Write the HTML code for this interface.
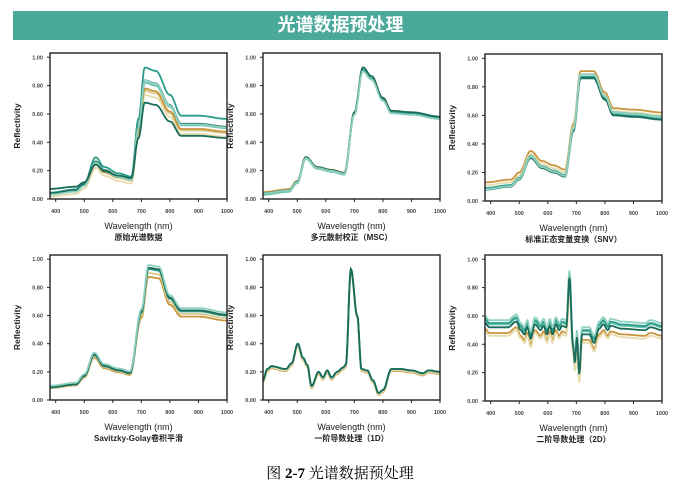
<!DOCTYPE html>
<html><head><meta charset="utf-8"><style>
body{margin:0;background:#fff;width:680px;height:494px;overflow:hidden;position:relative;font-family:"Liberation Sans","Noto Sans CJK SC",sans-serif}
#ban{position:absolute;left:13px;top:11px;width:655px;height:29px;background:#4aa99a;color:#fff;font-weight:bold;font-size:18px;text-align:center;line-height:29px;font-family:"Liberation Sans","Noto Sans CJK SC",sans-serif}
#cap{position:absolute;left:0;width:680px;top:462px;text-align:center;font-size:15px;font-family:"Liberation Serif","Noto Serif CJK SC",serif}
svg{position:absolute;left:0;top:0}
</style></head><body>
<div id="ban">光谱数据预处理</div>
<svg id="s" width="680" height="494" xmlns="http://www.w3.org/2000/svg"></svg>
<div id="cap">图 <b>2-7</b> 光谱数据预处理</div>
<script>
var NS="http://www.w3.org/2000/svg",S=document.getElementById('s');
function el(t,a,txt){var e=document.createElementNS(NS,t);for(var k in a)e.setAttribute(k,a[k]);if(txt!=null)e.textContent=txt;S.appendChild(e);return e;}
function interp(kp,x){for(var i=0;i<kp.length-1;i++){if(x<=kp[i+1][0]){var t=(x-kp[i][0])/(kp[i+1][0]-kp[i][0]);t=(1-Math.cos(Math.PI*t))/2;return kp[i][1]+t*(kp[i+1][1]-kp[i][1]);}}return kp[kp.length-1][1];}
var C=['#d9c98f','#e8dcae','#c8953c','#6cc4b0','#2a9d8a','#1b6b5a','#8fd0c0'];
var panels=[
{x:50,y:53,w:177,h:146,cap:'原始光谱数据',kp:[[380,.04],[470,.06],[500,.1],[540,.26],[570,.2],[620,.16],[665,.14],[690,.5],[712,.82],[750,.8],[800,.65],[840,.52],[900,.52],[1000,.5]],
 ser:[[.93,0,0],[.92,-.02,1],[.95,0,2],[1.0,0,3],[1.13,0,4],[1.02,0,5],[1.03,-.01,6],[.78,.04,5]]},
{x:263,y:53,w:177,h:146,cap:'多元散射校正（MSC）',kp:[[380,.04],[470,.06],[500,.12],[530,.29],[570,.22],[620,.2],[665,.18],[700,.6],[730,.91],[760,.85],[800,.7],[830,.61],[900,.6],[1000,.57]],
 ser:[[1,0,0],[.98,.01,2],[1.01,-.01,3],[1,0,4],[1.02,0,5],[.99,0,6]]},
{x:485,y:54,w:177,h:147,cap:'标准正态变量变换（SNV）',kp:[[380,.09],[470,.11],[500,.16],[540,.31],[580,.24],[620,.21],[660,.18],[690,.5],[715,.87],[760,.87],[800,.72],[830,.61],[900,.6],[1000,.58]],
 ser:[[1,.04,2],[1,.02,1],[1.02,0,3],[1,0,4],[1,-.01,5],[1.03,-.01,6]]},
{x:50,y:255,w:177,h:145,cap:'Savitzky-Golay卷积平滑',kp:[[380,.09],[470,.11],[500,.17],[535,.32],[570,.24],[620,.21],[660,.19],[700,.62],[725,.93],[760,.92],[800,.72],[840,.63],[900,.63],[1000,.6]],
 ser:[[.94,0,2],[.97,0,0],[1,0,3],[1,0,4],[1.01,0,5],[1.02,.01,6]]},
{x:263,y:255,w:177,h:145,cap:'一阶导数处理（1D）',kp:[[380,.14],[395,.22],[410,.24],[460,.22],[480,.26],[502,.4],[520,.3],[535,.25],[550,.1],[575,.2],[590,.16],[605,.21],[620,.16],[640,.2],[660,.23],[670,.25],[688,.93],[710,.6],[725,.22],[745,.21],[765,.14],[785,.05],[800,.07],[830,.22],[860,.22],[900,.21],[940,.19],[960,.21],[1000,.2]],
 ser:[[1,-.015,2],[1,-.01,1],[1,0,3],[1,0,4],[1,0,5]]},
{x:485,y:255,w:177,h:146,cap:'二阶导数处理（2D）',kp:[[380,.58],[395,.55],[460,.55],[490,.59],[505,.53],[518,.5],[528,.55],[540,.47],[555,.57],[575,.53],[585,.56],[597,.5],[607,.56],[617,.5],[628,.57],[640,.53],[650,.56],[665,.55],[676,.9],[688,.42],[695,.3],[702,.48],[710,.22],[720,.5],[745,.5],[762,.44],[780,.54],[795,.57],[810,.53],[820,.56],[860,.54],[940,.53],[960,.55],[1000,.53]],
 ser:[[1,-.07,2],[1,-.09,1],[1,-.01,3],[1,0,4],[1,.02,6],[1,-.03,5]]}
];
panels.forEach(function(p){
 function X(v){return p.x+(v-380)/620*p.w;}
 function Y(v){return p.y+p.h-v/1.03*p.h;}
 p.ser.forEach(function(s){var d='';for(var v=380;v<=1000;v+=2){var yv=interp(p.kp,v)*s[0]+s[1];yv=Math.max(0.005,Math.min(1.02,yv));d+=(v==380?'M':'L')+X(v).toFixed(1)+' '+Y(yv).toFixed(1);}
  el('path',{d:d,fill:'none',stroke:C[s[2]],'stroke-width':1.8});});
 el('rect',{x:p.x,y:p.y,width:p.w,height:p.h,fill:'none',stroke:'#222','stroke-width':1.4});
 for(var i=0;i<=5;i++){var yy=Y(i*.2);el('line',{x1:p.x-3,x2:p.x,y1:yy,y2:yy,stroke:'#222'});el('text',{x:p.x-7,y:yy+2,'font-size':5.5,'text-anchor':'end','font-weight':'bold',fill:'#444'},(i*.2).toFixed(2));}
 for(var v=400;v<=1000;v+=100){var xx=X(v);el('line',{x1:xx,x2:xx,y1:p.y+p.h,y2:p.y+p.h+3,stroke:'#222'});el('text',{x:xx,y:p.y+p.h+14,'font-size':5.5,'text-anchor':'middle','font-weight':'bold',fill:'#444'},v);}
 var cx=p.x+p.w/2;
 el('text',{x:cx,y:p.y+p.h+30,'font-size':9,'text-anchor':'middle',fill:'#222'},'Wavelength (nm)');
 el('text',{x:cx,y:p.y+p.h+41,'font-size':8,'text-anchor':'middle','font-weight':'bold',fill:'#222'},p.cap);
 var ly=p.y+p.h/2,lx=p.x-30;
 el('text',{x:lx,y:ly,'font-size':8.5,'font-weight':'bold','text-anchor':'middle',fill:'#222',transform:'rotate(-90 '+lx+' '+ly+')'},'Reflectivity');
});
</script>
</body></html>
